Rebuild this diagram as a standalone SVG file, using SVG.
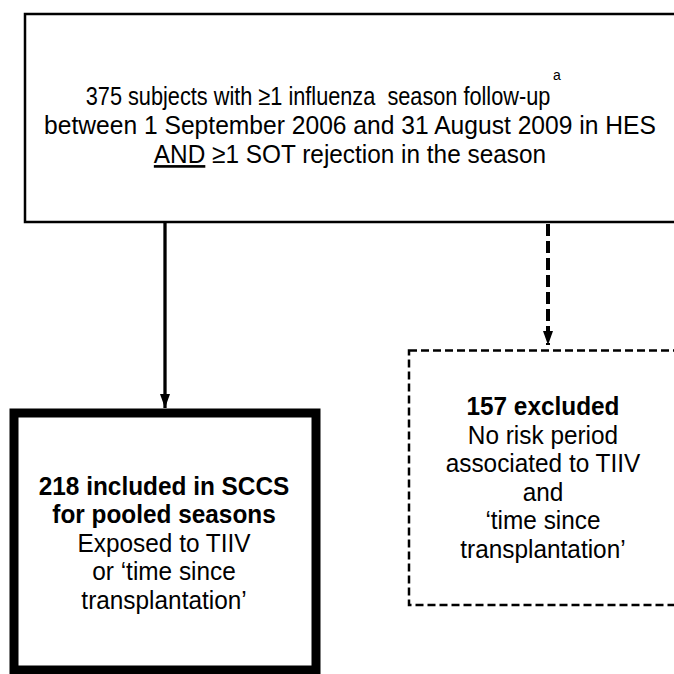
<svg xmlns="http://www.w3.org/2000/svg" width="674" height="674" viewBox="0 0 674 674">
<style>
text{font-family:"Liberation Sans",Arial,sans-serif;font-size:26.5px;fill:#000;text-anchor:middle}
.b{font-weight:bold}
.box{fill:#fff;stroke:#000}
</style>
<defs>
<marker id="ah" viewBox="0 0 14 10" refX="14" refY="5" markerWidth="14" markerHeight="10" markerUnits="userSpaceOnUse" orient="auto">
<path d="M0,0 L14,5 L0,10 Z" fill="#000"/>
</marker>
</defs>
<rect width="674" height="674" fill="#fff"/>
<g id="connectors">
<line x1="165" y1="222" x2="165" y2="408" stroke="#000" stroke-width="3.3" marker-end="url(#ah)"/>
<line x1="548" y1="224" x2="548" y2="345" stroke="#000" stroke-width="4" stroke-dasharray="12 5" marker-end="url(#ah)"/>
</g>
<g id="top">
<rect class="box" x="25" y="14" width="700" height="208" stroke-width="2.5"/>
<g transform="scale(0.92,1)">
<text x="345.7" y="105" xml:space="preserve" textLength="505" lengthAdjust="spacingAndGlyphs">375 subjects with ≥1 influenza  season follow-up</text>
<text x="380.4" y="134" textLength="665" lengthAdjust="spacingAndGlyphs">between 1 September 2006 and 31 August 2009 in HES</text>
<text x="380.4" y="163"><tspan text-decoration="underline">AND</tspan> ≥1 SOT rejection in the season</text>
</g>
<text x="557" y="80" style="font-size:14px">a</text>
</g>
<g id="included">
<rect class="box" x="14" y="413" width="302" height="257" stroke-width="9"/>
<g transform="scale(0.92,1)">
<text class="b" x="178.3" y="495">218 included in SCCS</text>
<text class="b" x="178.3" y="523">for pooled seasons</text>
<text x="178.3" y="552">Exposed to TIIV</text>
<text x="178.3" y="580">or ‘time since</text>
<text x="178.3" y="609">transplantation’</text>
</g>
</g>
<g id="excluded">
<rect class="box" x="409" y="350.5" width="300" height="254.5" stroke-width="2.5" stroke-dasharray="8 4"/>
<g transform="scale(0.92,1)">
<text class="b" x="590.2" y="415">157 excluded</text>
<text x="590.2" y="444">No risk period</text>
<text x="590.2" y="472">associated to TIIV</text>
<text x="590.2" y="501">and</text>
<text x="590.2" y="529">‘time since</text>
<text x="590.2" y="558">transplantation’</text>
</g>
</g>
</svg>
